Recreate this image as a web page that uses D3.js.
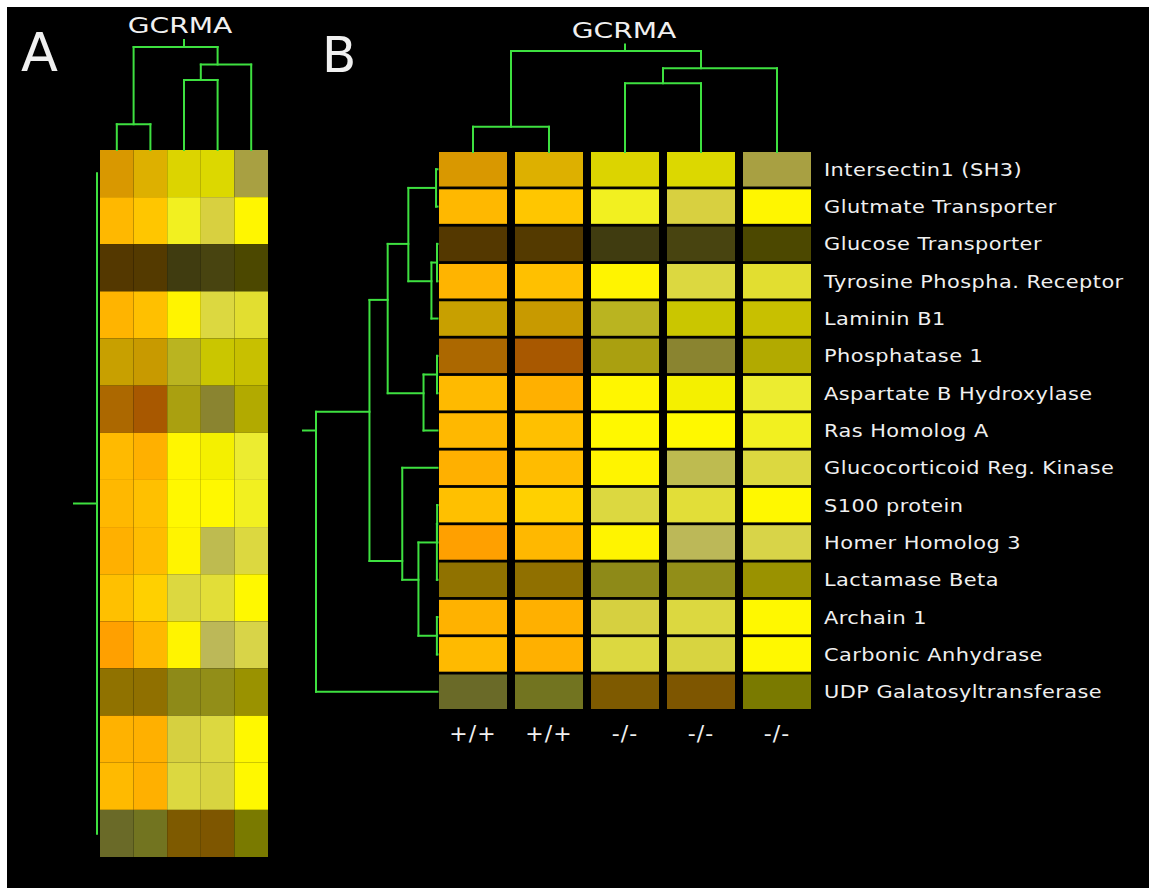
<!DOCTYPE html>
<html>
<head>
<meta charset="utf-8">
<script src="https://cdn.jsdelivr.net/npm/d3@7"></script>
<style>
  body { margin: 0; background: #fff; }
  svg { display: block; }
  .txt { font-family: "DejaVu Sans", sans-serif; fill: #f0f0f0; }
</style>
</head>
<body>
<svg></svg>
<script>
// genes (rows) and samples (columns) in the order shown
var genes = ["Intersectin1 (SH3)", "Glutmate Transporter", "Glucose Transporter",
    "Tyrosine Phospha. Receptor", "Laminin B1", "Phosphatase 1", "Aspartate B Hydroxylase",
    "Ras Homolog A", "Glucocorticoid Reg. Kinase", "S100 protein", "Homer Homolog 3",
    "Lactamase Beta", "Archain 1", "Carbonic Anhydrase", "UDP Galatosyltransferase"];
var samples = ["+/+", "+/+", "-/-", "-/-", "-/-"];

// cell colours, one row per gene
var cellColors = [
    ["#d99800", "#ddb000", "#dcd400", "#dcd800", "#a8a042"],
    ["#ffb800", "#ffc600", "#f2f020", "#d8d040", "#fff600"],
    ["#543800", "#543a00", "#403c10", "#484410", "#4c4800"],
    ["#ffb400", "#ffc000", "#fff400", "#dcd840", "#e2de30"],
    ["#c8a000", "#c89a00", "#bab420", "#cac600", "#c8c000"],
    ["#ac6800", "#a85800", "#aaa010", "#8a8430", "#b2aa00"],
    ["#ffba00", "#ffb000", "#fff600", "#f4f000", "#ecec30"],
    ["#ffb800", "#ffc000", "#fff800", "#fff800", "#f2f020"],
    ["#ffb000", "#ffbc00", "#fff400", "#bebb50", "#dcd840"],
    ["#ffc000", "#ffd000", "#dcd840", "#e2de38", "#fff800"],
    ["#ffa000", "#ffb800", "#fff400", "#bcb858", "#d8d448"],
    ["#907200", "#907000", "#8e8a18", "#928e18", "#9a9200"],
    ["#ffb200", "#ffb000", "#d6d040", "#dcd840", "#fff800"],
    ["#ffba00", "#ffb000", "#dcd840", "#d8d440", "#fff800"],
    ["#6a6a28", "#727420", "#7e5a00", "#7e5600", "#7a7a00"]
];

// hclust style merge tables: [a, b, height], negative = leaf (1-based), positive = earlier merge
var rowMerge = [
    [-1, -2, 0.012], [-3, -4, 0.004], [2, -5, 0.05], [1, 3, 0.24],
    [-6, -7, 0.004], [5, -8, 0.115], [4, 6, 0.41],
    [-10, -11, 0.003], [8, -12, 0.005], [-13, -14, 0.005], [9, 10, 0.157],
    [-9, 11, 0.29], [7, 12, 0.56], [13, -15, 1.0]
];
var colMerge = [[-1, -2, 0.25], [-3, -4, 0.68], [2, -5, 0.83], [1, 3, 1.0]];

var svgWidth = 1149;
var svgHeight = 888;
var green = "#3ee040";

var svg = d3.select("svg")
    .attr("width", svgWidth)
    .attr("height", svgHeight);

svg.append("rect")
    .attr("x", 7)
    .attr("y", 7)
    .attr("width", svgWidth - 7)
    .attr("height", svgHeight - 7)
    .attr("fill", "#000");

// node position = mean of its leaf positions (that is how the picture places them)
treeNodes = function(merge, leafPos){
    var nodes = [];
    var get = function(ref){
        if(ref < 0) return {pos: leafPos(-ref - 1), height: 0, leaves: [-ref - 1]};
        return nodes[ref - 1];
    }
    merge.forEach(function(m){
        var a = get(m[0]), b = get(m[1]);
        var leaves = a.leaves.concat(b.leaves);
        nodes.push({children: [a, b], height: m[2], leaves: leaves, pos: d3.mean(leaves, leafPos)});
    });
    return nodes;
}

drawTree = function(merge, leafPos, hScale, isRow, stem){
    var nodes = treeNodes(merge, leafPos);
    var segs = [];
    nodes.forEach(function(n){
        var ps = n.children.map(c => c.pos);
        segs.push([hScale(n.height), d3.min(ps), hScale(n.height), d3.max(ps)]);
        n.children.forEach(function(c){
            segs.push([hScale(n.height), c.pos, hScale(c.height), c.pos]);
        });
    });
    var root = nodes[nodes.length - 1];
    segs.push([hScale(root.height), root.pos, hScale(root.height) - stem, root.pos]);

    svg.append("g")
        .selectAll(null)
        .data(segs)
        .enter()
        .append("line")
        .attr("x1", d => isRow ? d[0] : d[1])
        .attr("y1", d => isRow ? d[1] : d[0])
        .attr("x2", d => isRow ? d[2] : d[3])
        .attr("y2", d => isRow ? d[3] : d[2])
        .attr("stroke", green)
        .attr("stroke-width", 2)
        .attr("stroke-linecap", "square");
}

drawHeatmap = function(x, y){
    var cells = [];
    cellColors.forEach(function(row, i){
        row.forEach(function(c, j){ cells.push({r: i, c: j, color: c}); });
    });
    svg.append("g")
        .selectAll(null)
        .data(cells)
        .enter()
        .append("rect")
        .attr("x", d => x(d.c))
        .attr("y", d => y(d.r))
        .attr("width", x.bandwidth())
        .attr("height", y.bandwidth())
        .attr("fill", d => d.color);
}

// ---------- panel A ----------
var xA = d3.scaleBand().domain(d3.range(samples.length)).range([100, 268]);
var yA = d3.scaleBand().domain(d3.range(genes.length)).range([150, 857]);
drawHeatmap(xA, yA);
drawTree(colMerge, i => xA(i) + xA.bandwidth() / 2,
    d3.scaleLinear().domain([0, 1]).range([150, 47]), false, 7);
drawTree(rowMerge, i => yA(i) + yA.bandwidth() / 2,
    d3.scaleLinear().domain([0, 1]).range([97, 97]), true, 23);

// ---------- panel B ----------
var xB = d3.scaleBand().domain(d3.range(samples.length)).range([439, 811]).paddingInner(8 / 76);
var yB = d3.scaleBand().domain(d3.range(genes.length)).range([152, 709]).paddingInner(2.8 / 37.3);
drawHeatmap(xB, yB);
drawTree(colMerge, i => xB(i) + xB.bandwidth() / 2,
    d3.scaleLinear().domain([0, 1]).range([152, 51]), false, 6.5);
drawTree(rowMerge, i => yB(i) + yB.bandwidth() / 2,
    d3.scaleLinear().domain([0, 1]).range([437.5, 316]), true, 13);

// gene names, stretched a bit to get the wide look of the original face
svg.append("g")
    .attr("transform", "translate(824,0) scale(1.16,1)")
    .selectAll(null)
    .data(genes)
    .enter()
    .append("text")
    .attr("class", "txt")
    .attr("x", 0)
    .attr("y", (d, i) => yB(i) + yB.bandwidth() / 2)
    .attr("dy", "0.36em")
    .style("font-size", "18px")
    .style("letter-spacing", "0.4px")
    .text(d => d);

svg.append("g")
    .selectAll(null)
    .data(samples)
    .enter()
    .append("text")
    .attr("class", "txt")
    .attr("text-anchor", "middle")
    .attr("x", (d, i) => xB(i) + xB.bandwidth() / 2)
    .attr("y", 741)
    .style("font-size", "22px")
    .style("letter-spacing", "1px")
    .text(d => d);

// titles and panel letters
[[180, 33], [624, 37.5]].forEach(function(p){
    svg.append("text")
        .attr("class", "txt")
        .attr("text-anchor", "middle")
        .attr("transform", "translate(" + p[0] + "," + p[1] + ") scale(1.28,1)")
        .style("font-size", "22px")
        .text("GCRMA");
});

svg.append("text").attr("class", "txt")
    .attr("x", 21).attr("y", 71)
    .style("font-size", "54px")
    .text("A");
svg.append("text").attr("class", "txt")
    .attr("x", 322).attr("y", 72)
    .style("font-size", "50px")
    .text("B");
</script>
</body>
</html>
